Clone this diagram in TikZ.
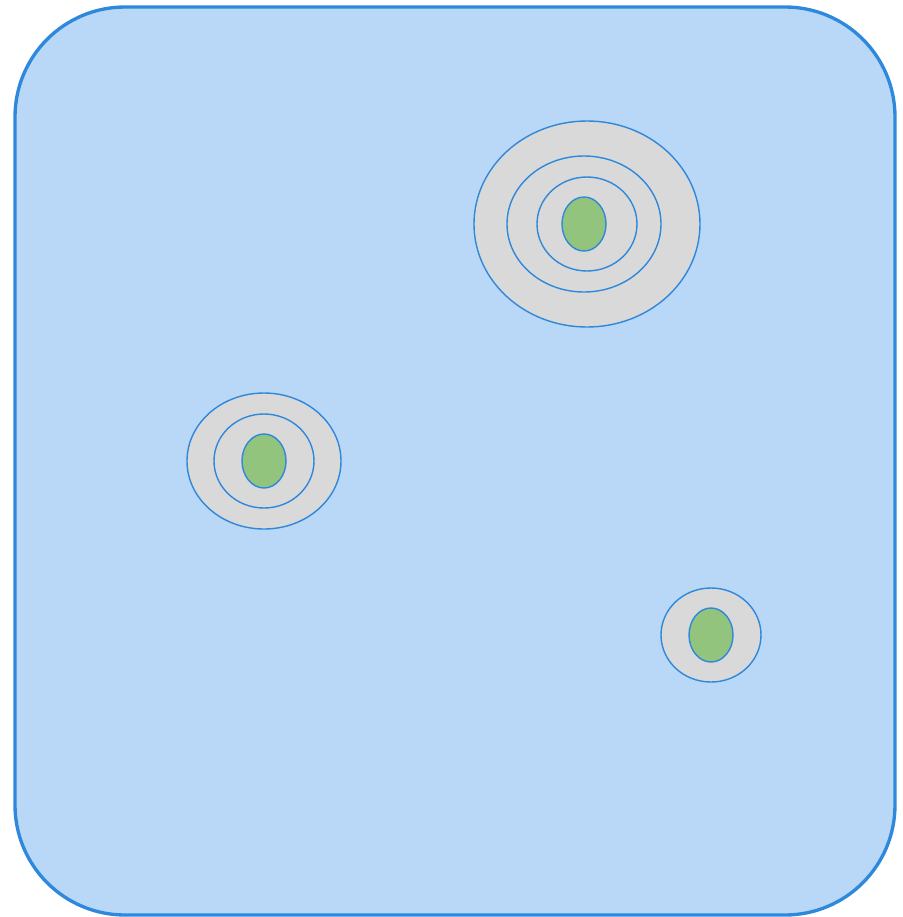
\documentclass[tikz,border=0pt]{standalone}
\usepackage{xcolor}
\usepackage{tikz}

\definecolor{edgeblue}{HTML}{2E88DB}
\definecolor{paleblue}{HTML}{B9D7F6}
\definecolor{ringgray}{HTML}{D9D9D9}
\definecolor{coregreen}{HTML}{93C47D}

\tikzset{
  field/.style={draw=edgeblue, fill=paleblue, line width=1.9pt, rounded corners=2.2cm},
  ring/.style={draw=edgeblue, fill=ringgray, line width=0.8pt},
  core/.style={draw=edgeblue, fill=coregreen, line width=0.8pt}
}

\begin{document}
\begin{tikzpicture}[x=0.02cm, y=-0.02cm]
\useasboundingbox (0,0) rectangle (903,917);
\draw[field] (15,7) rectangle (895,915);
% upper cluster
\draw[ring] (587,224) ellipse [x radius=113, y radius=103];
\draw[ring] (584,224) ellipse [x radius=77, y radius=68];
\draw[ring] (587,224) ellipse [x radius=50, y radius=47];
\draw[core] (584,224) ellipse [x radius=22, y radius=27];
% left cluster
\draw[ring] (264,461) ellipse [x radius=77, y radius=68];
\draw[ring] (264,461) ellipse [x radius=50, y radius=47];
\draw[core] (264,461) ellipse [x radius=22, y radius=27];
% lower right cluster
\draw[ring] (711,635) ellipse [x radius=50, y radius=47];
\draw[core] (711,635) ellipse [x radius=22, y radius=27];
\end{tikzpicture}
\end{document}
